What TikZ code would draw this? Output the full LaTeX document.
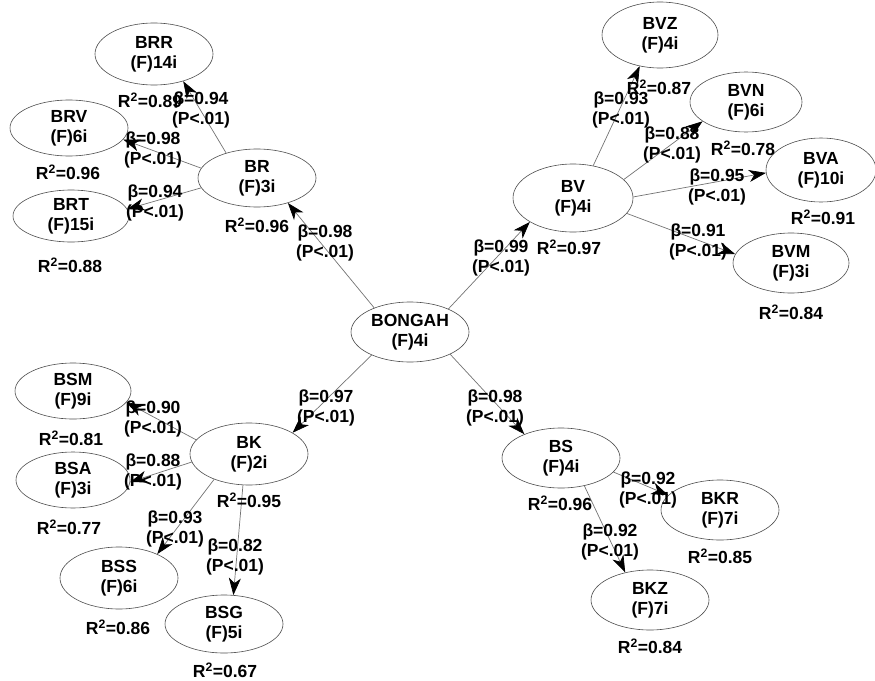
\documentclass[tikz,border=0pt]{standalone}
\usepackage{fontspec}
\setmainfont{Liberation Sans}
\usetikzlibrary{shapes.geometric,arrows.meta}
\begin{document}
\begin{tikzpicture}[x=1pt,y=-1pt,
  lat/.style={ellipse, draw=black!70, line width=0.6pt, inner sep=0pt, align=center,
    font=\fontsize{17.5}{20}\selectfont\bfseries},
  con/.style={draw=black!55, line width=0.7pt,
    -{Stealth[length=17pt,width=12pt,inset=5pt,color=black]}},
  lbl/.style={align=center, inner sep=0pt, font=\fontsize{17.5}{20}\selectfont\bfseries},
  rsq/.style={inner sep=0pt, font=\fontsize{17.5}{20}\selectfont\bfseries}
]
\useasboundingbox (0,0) rectangle (875,680);
% latent nodes
\node[lat, minimum width=118pt, minimum height=60pt] (BONGAH) at (410,332) {BONGAH\\(F)4i};
\node[lat, minimum width=118pt, minimum height=58pt] (BR) at (257,178) {BR\\(F)3i};
\node[lat, minimum width=118pt, minimum height=62pt] (BRR) at (154,54) {BRR\\(F)14i};
\node[lat, minimum width=118pt, minimum height=56pt] (BRV) at (69,128) {BRV\\(F)6i};
\node[lat, minimum width=116pt, minimum height=52pt] (BRT) at (71,216) {BRT\\(F)15i};
\node[lat, minimum width=120pt, minimum height=68pt] (BV) at (573,198) {BV\\(F)4i};
\node[lat, minimum width=116pt, minimum height=66pt] (BVZ) at (660,35) {BVZ\\(F)4i};
\node[lat, minimum width=112pt, minimum height=60pt] (BVN) at (746,102) {BVN\\(F)6i};
\node[lat, minimum width=110pt, minimum height=64pt] (BVA) at (821,170) {BVA\\(F)10i};
\node[lat, minimum width=116pt, minimum height=60pt] (BVM) at (791,263) {BVM\\(F)3i};
\node[lat, minimum width=118pt, minimum height=62pt] (BK) at (249,454) {BK\\(F)2i};
\node[lat, minimum width=116pt, minimum height=56pt] (BSM) at (73,391) {BSM\\(F)9i};
\node[lat, minimum width=114pt, minimum height=56pt] (BSA) at (73,480) {BSA\\(F)3i};
\node[lat, minimum width=118pt, minimum height=62pt] (BSS) at (119,578) {BSS\\(F)6i};
\node[lat, minimum width=118pt, minimum height=58pt] (BSG) at (224,624) {BSG\\(F)5i};
\node[lat, minimum width=118pt, minimum height=60pt] (BS) at (561,458) {BS\\(F)4i};
\node[lat, minimum width=118pt, minimum height=60pt] (BKR) at (720,510) {BKR\\(F)7i};
\node[lat, minimum width=118pt, minimum height=60pt] (BKZ) at (650,600) {BKZ\\(F)7i};
% connectors
\draw[con] (BONGAH.146) -- (BR.321);
\draw[con] (BONGAH.31) -- (BV.209);
\draw[con] (BONGAH.211) -- (BK.26);
\draw[con] (BONGAH.331) -- (BS.147);
\draw[con] (BR.141) -- (BRR.317);
\draw[con] (BR.170) -- (BRV.348);
\draw[con] (BR.190) -- (BRT.7);
\draw[con] (BV.58) -- (BVZ.237);
\draw[con] (BV.20) -- (BVN.204);
\draw[con] (BV.1) -- (BVA.183);
\draw[con] (BV.344) -- (BVM.171);
\draw[con] (BK.165) -- (BSM.348);
\draw[con] (BK.188) -- (BSA.358);
\draw[con] (BK.216) -- (BSS.32);
\draw[con] (BK.259) -- (BSG.72);
\draw[con] (BS.345) -- (BKR.164);
\draw[con] (BS.310) -- (BKZ.132);
% path labels
\node[lbl] (l1) at (325,243) {β=0.98\\(P<.01)};
\node[lbl] (l2) at (501,258) {β=0.99\\(P<.01)};
\node[lbl] (l3) at (326,408) {β=0.97\\(P<.01)};
\node[lbl] (l4) at (495,408) {β=0.98\\(P<.01)};
\node[lbl] (l5) at (201,110) {β=0.94\\(P<.01)};
\node[lbl] (l6) at (153,150) {β=0.98\\(P<.01)};
\node[lbl] (l7) at (155,203) {β=0.94\\(P<.01)};
\node[lbl] (l8) at (621,110) {β=0.93\\(P<.01)};
\node[lbl] (l9) at (672,145) {β=0.88\\(P<.01)};
\node[lbl] (l10) at (717,187) {β=0.95\\(P<.01)};
\node[lbl] (l11) at (698,242) {β=0.91\\(P<.01)};
\node[lbl] (l12) at (153,419) {β=0.90\\(P<.01)};
\node[lbl] (l13) at (153,472) {β=0.88\\(P<.01)};
\node[lbl] (l14) at (175,529) {β=0.93\\(P<.01)};
\node[lbl] (l15) at (235,557) {β=0.82\\(P<.01)};
\node[lbl] (l16) at (648,490) {β=0.92\\(P<.01)};
\node[lbl] (l17) at (610,542) {β=0.92\\(P<.01)};
% R-squared labels
\node[rsq] (r1) at (257,225) {R\textsuperscript{2}=0.96};
\node[rsq] (r2) at (150,100) {R\textsuperscript{2}=0.89};
\node[rsq] (r3) at (68,172) {R\textsuperscript{2}=0.96};
\node[rsq] (r4) at (70,265) {R\textsuperscript{2}=0.88};
\node[rsq] (r5) at (569,247) {R\textsuperscript{2}=0.97};
\node[rsq] (r6) at (659,87) {R\textsuperscript{2}=0.87};
\node[rsq] (r7) at (743,148) {R\textsuperscript{2}=0.78};
\node[rsq] (r8) at (823,217) {R\textsuperscript{2}=0.91};
\node[rsq] (r9) at (791,312) {R\textsuperscript{2}=0.84};
\node[rsq] (r10) at (249,500) {R\textsuperscript{2}=0.95};
\node[rsq] (r11) at (71,438) {R\textsuperscript{2}=0.81};
\node[rsq] (r12) at (69,527) {R\textsuperscript{2}=0.77};
\node[rsq] (r13) at (118,627) {R\textsuperscript{2}=0.86};
\node[rsq] (r14) at (225,670) {R\textsuperscript{2}=0.67};
\node[rsq] (r15) at (560,503) {R\textsuperscript{2}=0.96};
\node[rsq] (r16) at (720,556) {R\textsuperscript{2}=0.85};
\node[rsq] (r17) at (650,646) {R\textsuperscript{2}=0.84};
\end{tikzpicture}
\end{document}
